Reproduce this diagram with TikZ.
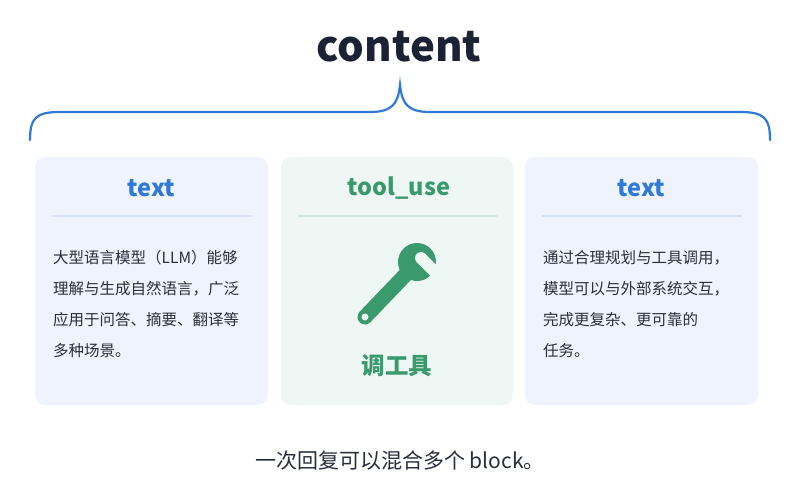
\documentclass[tikz,border=0pt]{standalone}
\usepackage{fontspec}
\setmainfont{Noto Sans CJK SC}
\definecolor{bl}{HTML}{2F7AD9}
\definecolor{gr}{HTML}{3A9A6E}
\definecolor{bfill}{HTML}{EEF3FD}
\definecolor{gfill}{HTML}{EEF7F3}
\definecolor{bdiv}{HTML}{D5E1F5}
\definecolor{gdiv}{HTML}{CDE8DC}
\definecolor{navy}{HTML}{1A2233}
\definecolor{body}{HTML}{2A2F3A}
\begin{document}
\begin{tikzpicture}[x=1pt,y=-1pt,
  card/.style={rounded corners=10pt},
  head/.style={font=\fontsize{23.5}{26}\selectfont\bfseries},
  btxt/.style={font=\fontsize{15.5}{31}\selectfont,color=body,anchor=north west,align=left,text width=215pt,inner sep=0pt}]
\useasboundingbox (0,0) rectangle (800,495);
\fill[white] (0,0) rectangle (800,495);
\node[font=\fontsize{42}{46}\selectfont\bfseries,color=navy] (title) at (399,47) {content};
\draw[bl,line width=2.2pt,line cap=round] (30,140) .. controls (30,118) and (36,112) .. (60,112)
  -- (370,112) .. controls (392,112) and (398,104) .. (400,85)
  .. controls (402,104) and (408,112) .. (430,112) -- (740,112)
  .. controls (764,112) and (770,118) .. (770,140);
\fill[bfill,card] (35,157) rectangle (268,405);
\fill[gfill,card] (281,157) rectangle (513,405);
\fill[bfill,card] (525,157) rectangle (758,405);
\node[head,bl] (h1) at (151.5,188) {text};
\node[head,gr] (h2) at (399,188) {tool\_use};
\node[head,bl] (h3) at (641.5,188) {text};
\draw[bdiv,line width=1.2pt] (52,216) -- (252,216);
\draw[gdiv,line width=1.2pt] (298,216) -- (497,216);
\draw[bdiv,line width=1.2pt] (542,216) -- (742,216);
\node[btxt] (t1) at (53,250) {大型语言模型（LLM）能够\\理解与生成自然语言，广泛\\应用于问答、摘要、翻译等\\多种场景。};
\node[btxt] (t3) at (543,250) {通过合理规划与工具调用，\\模型可以与外部系统交互，\\完成更复杂、更可靠的\\任务。};
% wrench
\draw[gr,line width=15pt,line cap=round] (365,317) -- (410,270);
\fill[gr] (417,262) circle (19);
\fill[gfill,rotate around={-45:(421,258)}] (421,252) rectangle (445,264);
\fill[gfill] (421,258) circle (6);
\fill[gfill] (365,317) circle (3.5);
\node[font=\fontsize{23.5}{26}\selectfont\bfseries,color=gr] (h2b) at (397,366) {调工具};
\node[font=\fontsize{21}{24}\selectfont,color=body] (foot) at (400,461) {一次回复可以混合多个 block。};
\end{tikzpicture}
\end{document}
